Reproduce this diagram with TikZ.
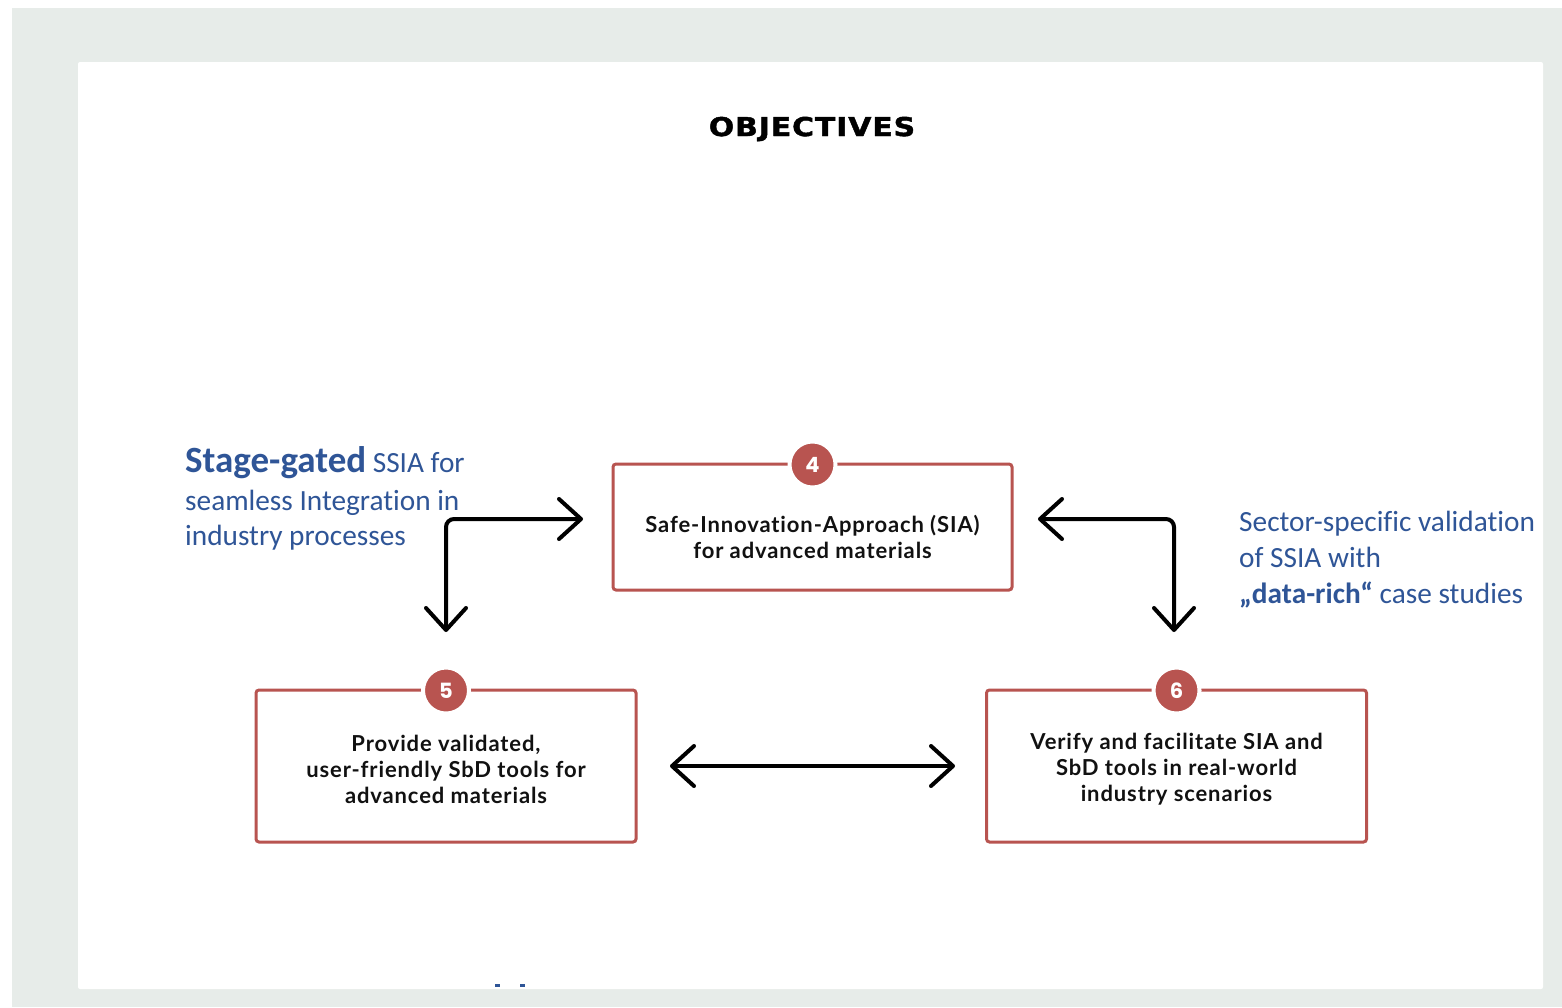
\documentclass[tikz,border=0pt]{standalone}
\usepackage{fontspec}
\setmainfont{Lato}
\newfontfamily\boxfont[LetterSpace=4, Ligatures=NoCommon]{Lato}
\newfontfamily\titlefont[LetterSpace=3, BoldFeatures={FakeBold=1.5}]{DejaVu Sans}
\newfontfamily\badgefont{Poppins}
\newfontfamily\notefont[Ligatures=NoCommon]{Carlito}
\usetikzlibrary{arrows.meta}
\definecolor{framegray}{HTML}{E7ECE9}
\definecolor{objred}{HTML}{B85450}
\definecolor{noteblue}{HTML}{2F5597}
\definecolor{inkblack}{HTML}{111111}
\tikzset{barb/.tip={Straight Barb[length=22pt,width=40pt,round]}}

\begin{document}
\begin{tikzpicture}[x=1pt,y=-1pt,
  objbox/.style={draw=objred, line width=3pt, rounded corners=3pt, fill=white, inner sep=0pt},
  badge/.style={circle, fill=objred, draw=white, line width=4pt, minimum size=46pt,
    inner sep=0pt, text=white, font=\badgefont\bfseries\fontsize{21}{21}\selectfont},
  boxtext/.style={align=center, text=inkblack, inner sep=0pt,
    font=\boxfont\bfseries\fontsize{22}{26}\selectfont},
  note/.style={anchor=base west, inner sep=0pt, text=noteblue,
    font=\notefont\fontsize{29.3}{35}\selectfont},
  conn/.style={draw=black, line width=4pt, line cap=round, rounded corners=8pt, barb-barb}
]
% page background and white panel
\useasboundingbox (0,0) rectangle (1562,1007);
\fill[white] (0,0) rectangle (1562,1007);
\fill[framegray] (12,8) rectangle (1562,1007);
\fill[white, rounded corners=2pt] (78,62) rectangle (1543,989);

% heading
\node[font=\titlefont\bfseries\fontsize{26}{26}\selectfont, text=black, inner sep=0pt] (title) at (812,129)
  {\scalebox{1.15}[1]{OBJECTIVES}};

% objective boxes
\node[objbox, minimum width=399pt, minimum height=126pt] (b4) at (812.5,527) {};
\node[objbox, minimum width=380pt, minimum height=152pt] (b5) at (446,766) {};
\node[objbox, minimum width=380pt, minimum height=152pt] (b6) at (1176.5,766) {};

\node[boxtext] (t4) at ([yshift=-9.5pt]b4.center) {Safe-Innovation-Approach (SIA)\\for advanced materials};
\node[boxtext] (t5) at ([yshift=-3pt]b5.center) {Provide validated,\\user-friendly SbD tools for\\advanced materials};
\node[boxtext] (t6) at ([yshift=-3pt]b6.center) {Verify and facilitate SIA and\\SbD tools in real-world\\industry scenarios};

% numbered badges
\node[badge] (n4) at ([yshift=-2pt]b4.north) {4};
\node[badge] (n5) at ([yshift=-2pt]b5.north) {5};
\node[badge] (n6) at ([yshift=-2pt]b6.north) {6};

% connectors
\coordinate (la) at (446,632);
\coordinate (lb) at (583,519);
\coordinate (ra) at (1038,519);
\coordinate (rb) at (1174,632);
\coordinate (ba) at (670,766);
\coordinate (bb) at (955,766);
\draw[conn] (la) |- (lb);
\draw[conn] (ra) -| (rb);
\draw[conn] (ba) -- (bb);

% side notes
\node[note] (l1) at (185,472) {{\bfseries\fontsize{37}{37}\selectfont Stage-gated} SSIA for};
\node[note] (l2) at (185,510) {seamless Integration in};
\node[note] (l3) at (185,545) {industry processes};

\node[note] (r1) at (1239,531) {Sector-specific validation};
\node[note] (r2) at (1239,567) {of SSIA with};
\node[note] (r3) at (1239,603) {{\bfseries „data-rich“} case studies};

% clipped text remnants at the panel's lower edge
\fill[noteblue] (495,984) rectangle (500,987);
\fill[noteblue] (520,984) rectangle (525,987);
\end{tikzpicture}
\end{document}
